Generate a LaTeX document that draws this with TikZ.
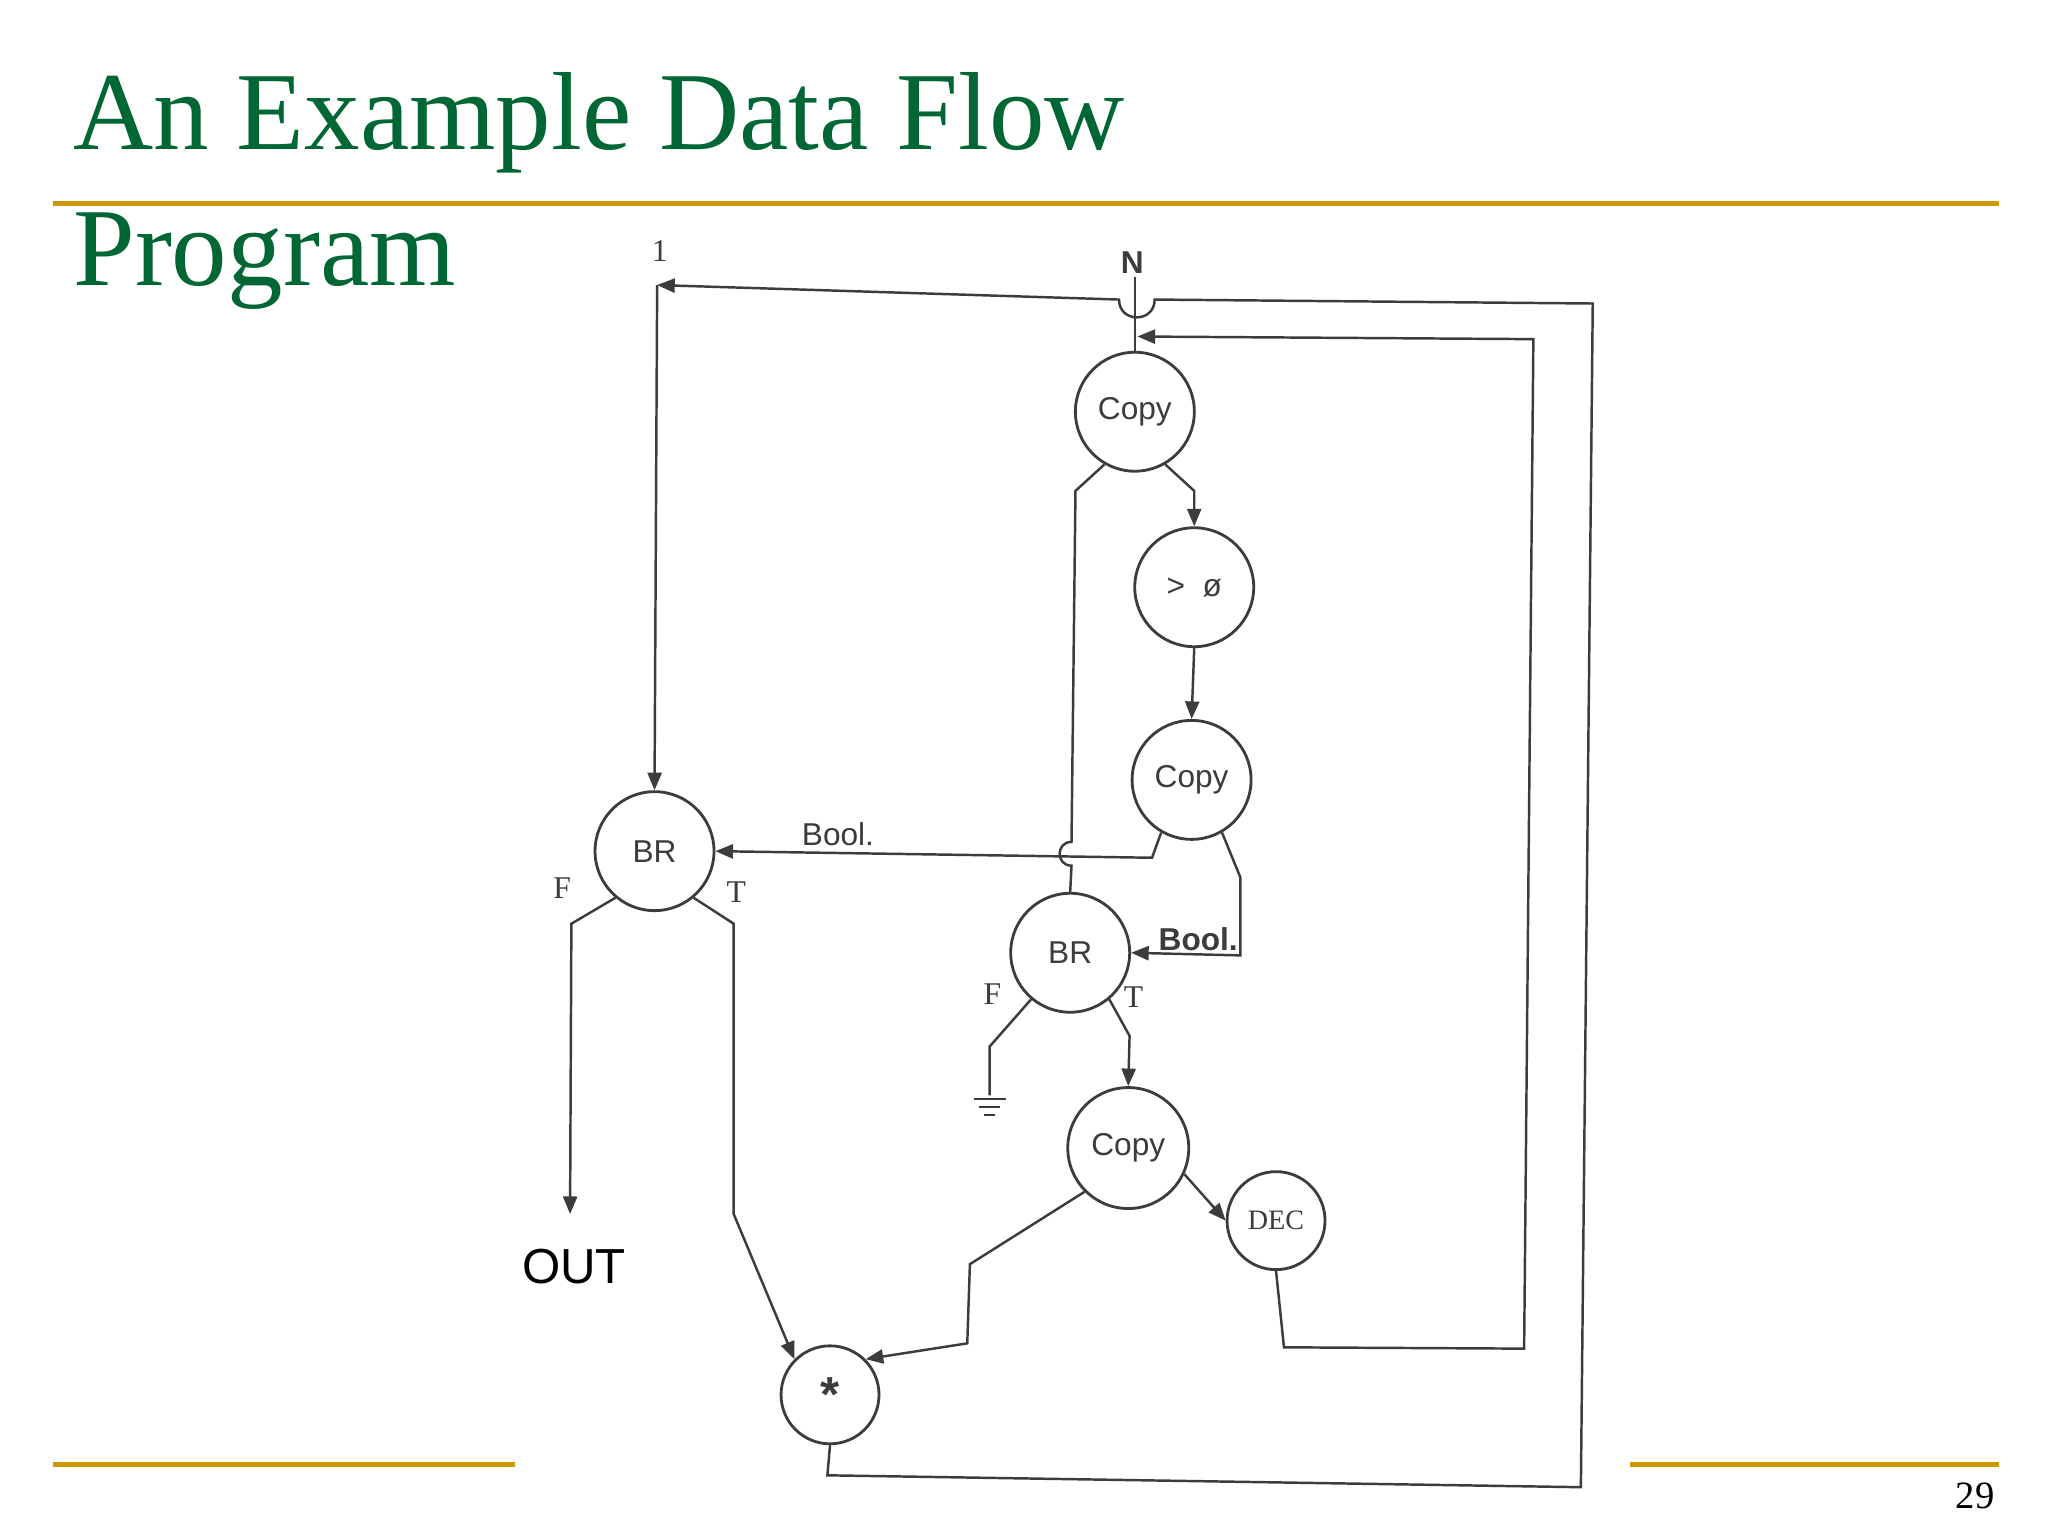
\documentclass[tikz,border=0pt]{standalone}
\usepackage{fontspec}
\setmainfont{Liberation Serif}
\setsansfont{Liberation Sans}
\usetikzlibrary{arrows.meta}
\definecolor{ttl}{RGB}{0,102,51}
\definecolor{gold}{RGB}{204,153,0}
\definecolor{ink}{RGB}{60,60,60}
\tikzset{
 nd/.style={circle,draw=ink,line width=0.8pt,inner sep=0pt,font=\sffamily\fontsize{9}{10}\selectfont,text=ink},
 wire/.style={draw=ink,line width=0.7pt},
 arr/.style={wire,-{Triangle[length=5pt,width=4pt]}},
 lab/.style={font=\fontsize{9}{10}\selectfont,text=ink},
}
\begin{document}
\begin{tikzpicture}[x=0.013196cm,y=-0.013196cm]
\useasboundingbox (0,0) rectangle (1552,1164);
\fill[white] (0,0) rectangle (1552,1164);
% title
\node[anchor=base west,inner sep=0,text=ttl,font=\fontsize{31.6}{38}\selectfont] (t1) at (55,113) {An Example Data Flow};
\node[anchor=base west,inner sep=0,text=ttl,font=\fontsize{31.6}{38}\selectfont] (t2) at (55,216) {Program};
\draw[gold,line width=1.5pt] (40,154) -- (1515,154);
\draw[gold,line width=1.5pt] (40,1110) -- (390,1110);
\draw[gold,line width=1.5pt] (1235,1110) -- (1515,1110);
\node[anchor=base east,inner sep=0,font=\fontsize{11}{12}\selectfont] (pg) at (1512,1143) {29};
% nodes
\node[nd,minimum size=1.19cm] (c1) at (860,312) {Copy};
\node[nd,minimum size=1.19cm] (gt) at (905,445) {>\ \ ø};
\node[nd,minimum size=1.19cm] (c2) at (903,591) {Copy};
\node[nd,minimum size=1.19cm] (br1) at (496,645) {BR};
\node[nd,minimum size=1.19cm] (br2) at (811,722) {BR};
\node[nd,minimum size=1.21cm] (c3) at (855,870) {Copy};
\node[nd,minimum size=0.98cm,font=\fontsize{8}{9}\selectfont] (dec) at (967,925) {DEC};
\node[nd,minimum size=0.98cm,font=\sffamily\fontsize{14}{14}\selectfont\bfseries] (mul) at (629,1057) {*};
% labels
\node[lab] (l1) at (500,190) {1};
\node[lab,font=\sffamily\bfseries\fontsize{9}{10}\selectfont] (lN) at (858,199) {N};
\node[lab,font=\sffamily\fontsize{9}{10}\selectfont] (lb1) at (635,632) {Bool.};
\node[lab,font=\sffamily\bfseries\fontsize{9}{10}\selectfont] (lb2) at (908,712) {Bool.};
\node[lab] (f1) at (426,673) {F};
\node[lab] (t1l) at (558,676) {T};
\node[lab] (f2) at (752,753) {F};
\node[lab] (t2l) at (859,756) {T};
\node[font=\sffamily\fontsize{14}{14}\selectfont] (out) at (435,960) {OUT};
% coordinates
\coordinate (oneTop) at (498,216);
\coordinate (gnd) at (750,830);
\coordinate (outEnd) at (432,920);
% wires
\draw[wire] (860,210) -- (c1.north);
\draw[arr] (c1.-60) -- (905,372) -- (gt.north);
\draw[arr] (gt.south) -- (c2.north);
\draw[wire] (c1.-120) -- (815,372) -- (812,638) .. controls (800,638) and (800,656) .. (812,656) -- (br2.north);
\draw[arr] (c2.-120) -- (873,650) -- (br1.east);
\draw[arr] (c2.-60) -- (940,665) -- (940,724) -- (br2.east);
\draw[arr] (oneTop) -- (br1.north);
\draw[arr] (br1.-130) -- (433,700) -- (outEnd);
\draw[arr] (br1.-50) -- (556,700) -- (556,920) -- (mul.north west);
\draw[wire] (br2.-130) -- (750,793) -- (gnd);
\draw[wire] (738,833) -- (762,833) (742,839) -- (758,839) (746,845) -- (754,845);
\draw[arr] (br2.-50) -- (856,785) -- (c3.north);
\draw[arr] (c3.-135) -- (735,958) -- (733,1018) -- (mul.north east);
\draw[arr] (c3.-25) -- (dec.west);
\draw[arr] (dec.south) -- (973,1021) -- (1155,1022) -- (1162,257) -- (862,255);
\draw[arr] (mul.south) -- (627,1118) -- (1198,1127) -- (1207,230) -- (875,227) .. controls (875,245) and (848,245) .. (848,227) -- (oneTop);
\end{tikzpicture}
\end{document}
